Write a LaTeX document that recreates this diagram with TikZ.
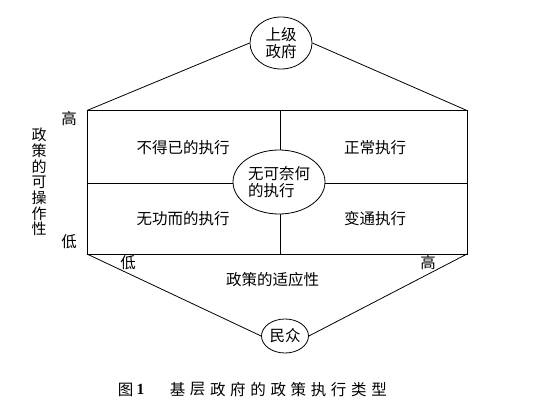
\documentclass[tikz,border=0pt]{standalone}
\usepackage{fontspec}
\setmainfont{Noto Sans CJK SC}
\newfontfamily\capnum{Liberation Serif}
\usetikzlibrary{shapes.geometric}
\begin{document}
\begin{tikzpicture}[x=1pt,y=-1pt, line width=0.8pt,
  oval/.style={draw, ellipse, inner sep=0pt, fill=white},
  txt/.style={font=\fontsize{15.5}{16.5}\selectfont, inner sep=0pt}]
\useasboundingbox (0,0) rectangle (535,409);
\coordinate (tl) at (87,110.5);
\coordinate (tr) at (467,110.5);
\coordinate (bl) at (87,254);
\coordinate (br) at (467,254);
\coordinate (ml) at (87,183);
\coordinate (mr) at (467,183);
\coordinate (mt) at (280.5,110.5);
\coordinate (mb) at (280.5,254);
\draw (tl) rectangle (br);
\draw (ml) -- (mr);
\draw (mt) -- (mb);
\node[oval, txt, align=left, minimum width=92pt, minimum height=64pt] (mid) at (279,182) {无可奈何\\的执行};
\node[oval, txt, align=center, minimum width=62pt, minimum height=52pt] (top) at (281,43) {上级\\政府};
\draw (tl) -- (top.west);
\draw (tr) -- (top.east);
\node[oval, txt, minimum width=47pt, minimum height=34pt] (bot) at (285,336) {民众};
\draw (bl) -- (bot.west);
\draw (br) -- (bot.east);
\node[txt] (c1) at (183,147.5) {不得已的执行};
\node[txt] (c2) at (375,147.5) {正常执行};
\node[txt] (c3) at (183,218.5) {无功而的执行};
\node[txt] (c4) at (375,218.5) {变通执行};
\node[txt] (hiY) at (69,119) {高};
\node[txt] (loY) at (69,242) {低};
\node[txt, align=center, font=\fontsize{15}{15.7}\selectfont] (ylab) at (39,182) {政\\策\\的\\可\\操\\作\\性};
\node[txt] (loX) at (128,263) {低};
\node[txt] (hiX) at (428,263) {高};
\node[txt] (xlab) at (272.5,280) {政策的适应性};
\node[txt] (capfig) at (125.5,389.5) {图};
\node[txt, font=\fontsize{15.5}{16.5}\capnum\bfseries] (capnum) at (140.5,389.5) {1};
\foreach \ch [count=\i from 0] in {基,层,政,府,的,政,策,执,行,类,型}
  \node[txt] (cap\i) at ({177.5+\i*20.15},389.5) {\ch};
\end{tikzpicture}
\end{document}
